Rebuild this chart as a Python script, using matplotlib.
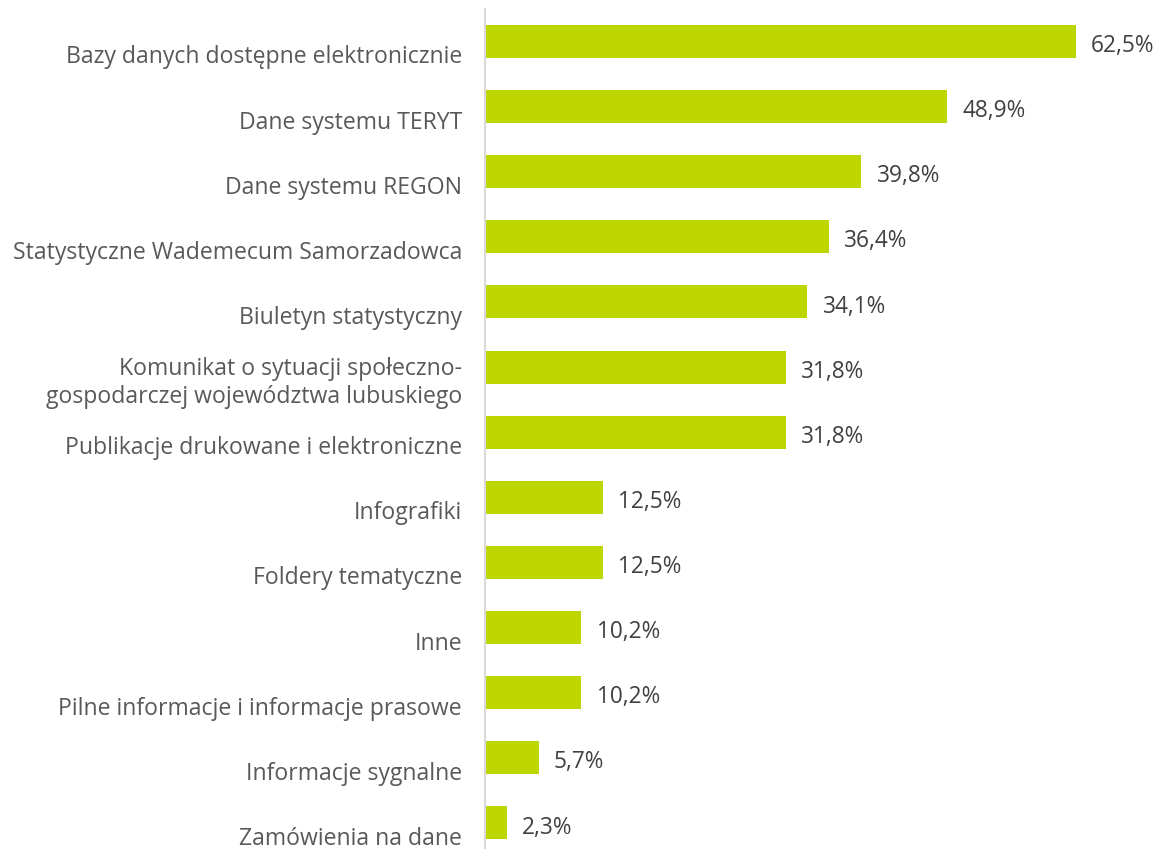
import matplotlib.pyplot as plt

kategorie = [
    'Bazy danych dostępne elektronicznie',
    'Dane systemu TERYT',
    'Dane systemu REGON',
    'Statystyczne Wademecum Samorzadowca',
    'Biuletyn statystyczny',
    'Komunikat o sytuacji społeczno-\ngospodarczej województwa lubuskiego',
    'Publikacje drukowane i elektroniczne',
    'Infografiki',
    'Foldery tematyczne',
    'Inne',
    'Pilne informacje i informacje prasowe',
    'Informacje sygnalne',
    'Zamówienia na dane',
]
wartosci = [62.5, 48.9, 39.8, 36.4, 34.1, 31.8, 31.8, 12.5, 12.5, 10.2, 10.2, 5.7, 2.3]

plt.rcParams['font.family'] = ['Open Sans', 'DejaVu Sans']

fig = plt.figure(figsize=(11.55, 8.49), dpi=100)
ax = fig.add_axes([485 / 1155, 0, 670 / 1155, 840 / 849])

pos = list(range(len(wartosci)))
ax.barh(pos, wartosci, height=0.507, color='#bed600')

for i, (k, v) in enumerate(zip(kategorie, wartosci)):
    ax.text(-2.43, i + 0.245, k, ha='right', va='center', fontsize=16.6,
            color='#595959', linespacing=1.2)
    ax.text(v + 1.6, i + 0.07, f'{v:.1f}%'.replace('.', ','), ha='left',
            va='center', fontsize=16.3, color='#404040')

ax.set_xlim(0, 670 / 9.456)
ax.set_ylim(12.40, -0.499)
ax.set_xticks([])
ax.set_yticks([])
for s in ['top', 'right', 'bottom']:
    ax.spines[s].set_visible(False)
ax.spines['left'].set_color('#d9d9d9')
ax.spines['left'].set_linewidth(1.5)

fig.savefig('out.png', dpi=100)
